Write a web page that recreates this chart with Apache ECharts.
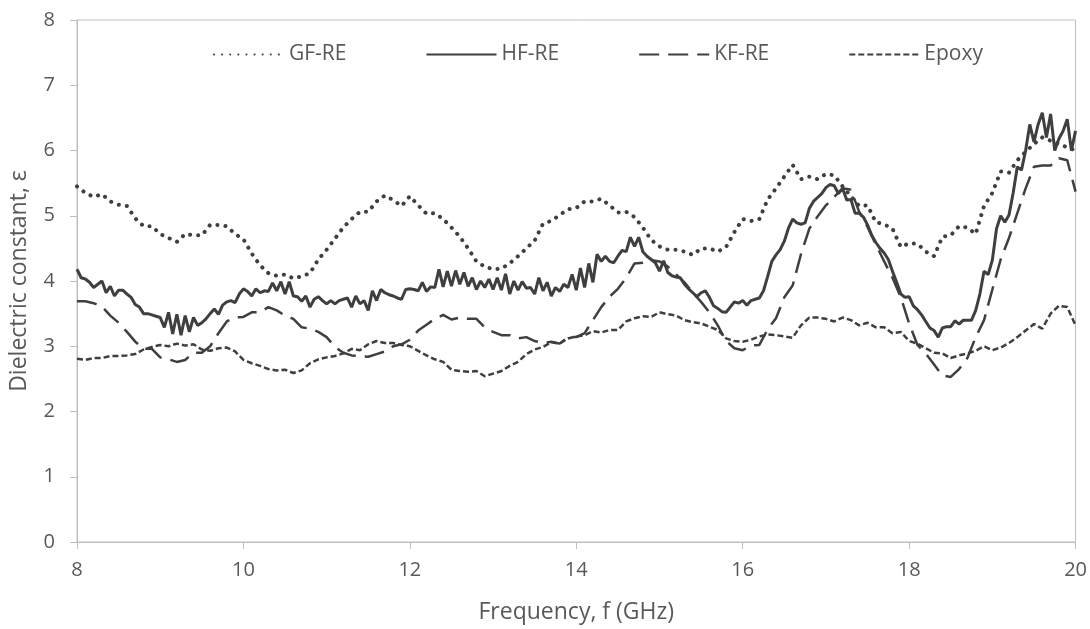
<!DOCTYPE html>
<html>
<head>
<meta charset="utf-8">
<script src="https://cdn.jsdelivr.net/npm/echarts@6/dist/echarts.min.js"></script>
<style>
  html, body { margin: 0; padding: 0; background: #fff; }
  #chart { width: 1090px; height: 629px; }
</style>
</head>
<body>
<div id="chart"></div>
<script>
// Frequency grids (GHz): 0.1 GHz steps for the smoother curves, 0.05 GHz for HF-RE
const freqCoarse = Array.from({ length: 121 }, (_, i) => +(8 + i * 0.1).toFixed(2));
const freqFine = Array.from({ length: 241 }, (_, i) => +(8 + i * 0.05).toFixed(2));

// Dielectric constant (one row = 1 GHz)
const gfRe = [
  5.45, 5.35, 5.29, 5.33, 5.22, 5.17, 5.15, 4.96, 4.84, 4.84,
  4.72, 4.66, 4.60, 4.72, 4.70, 4.70, 4.86, 4.86, 4.84, 4.72,
  4.64, 4.42, 4.24, 4.12, 4.08, 4.10, 4.04, 4.07, 4.12, 4.33,
  4.48, 4.65, 4.82, 4.95, 5.06, 5.06, 5.22, 5.31, 5.24, 5.15,
  5.30, 5.16, 5.03, 5.04, 4.95, 4.82, 4.68, 4.50, 4.30, 4.22,
  4.18, 4.19, 4.27, 4.38, 4.50, 4.62, 4.88, 4.92, 5.01, 5.10,
  5.12, 5.22, 5.22, 5.26, 5.16, 5.05, 5.06, 4.98, 4.82, 4.63,
  4.53, 4.48, 4.48, 4.45, 4.40, 4.50, 4.50, 4.45, 4.52, 4.75,
  4.95, 4.92, 4.95, 5.25, 5.42, 5.60, 5.78, 5.56, 5.60, 5.56,
  5.64, 5.62, 5.45, 5.30, 5.15, 5.16, 4.90, 4.87, 4.80, 4.52,
  4.58, 4.57, 4.45, 4.38, 4.68, 4.70, 4.84, 4.82, 4.72, 5.15,
  5.35, 5.68, 5.66, 5.85, 5.98, 6.10, 6.20, 6.15, 6.10, 6.05,
  6.00
];

const hfRe = [
  4.18, 4.05, 4.03, 3.98, 3.90, 3.95, 4.00, 3.82, 3.92, 3.77, 3.86, 3.86, 3.80, 3.75, 3.64, 3.60, 3.50, 3.50, 3.48, 3.46,
  3.44, 3.29, 3.52, 3.19, 3.49, 3.17, 3.47, 3.22, 3.44, 3.32, 3.36, 3.42, 3.50, 3.57, 3.49, 3.63, 3.68, 3.70, 3.67, 3.80,
  3.88, 3.84, 3.77, 3.88, 3.82, 3.85, 3.84, 3.97, 3.85, 3.99, 3.80, 3.99, 3.77, 3.76, 3.69, 3.77, 3.60, 3.72, 3.76, 3.70,
  3.65, 3.70, 3.65, 3.70, 3.72, 3.74, 3.60, 3.77, 3.65, 3.70, 3.55, 3.85, 3.70, 3.87, 3.82, 3.79, 3.77, 3.74, 3.72, 3.87,
  3.88, 3.87, 3.85, 3.98, 3.84, 3.91, 3.90, 4.18, 3.91, 4.15, 3.92, 4.16, 3.95, 4.13, 3.92, 4.05, 3.87, 4.00, 3.90, 4.03,
  3.87, 4.05, 3.86, 4.11, 3.80, 4.00, 3.86, 3.99, 3.89, 3.90, 3.80, 4.05, 3.85, 3.98, 3.77, 3.90, 3.84, 3.95, 3.90, 4.10,
  3.86, 4.20, 3.90, 4.27, 3.98, 4.41, 4.30, 4.38, 4.30, 4.28, 4.38, 4.47, 4.45, 4.67, 4.53, 4.67, 4.45, 4.38, 4.33, 4.28,
  4.15, 4.31, 4.13, 4.08, 4.06, 4.05, 3.95, 3.88, 3.82, 3.76, 3.82, 3.85, 3.75, 3.62, 3.58, 3.53, 3.52, 3.60, 3.68, 3.66,
  3.70, 3.63, 3.70, 3.72, 3.74, 3.85, 4.07, 4.30, 4.40, 4.48, 4.61, 4.81, 4.95, 4.89, 4.87, 4.89, 5.11, 5.22, 5.28, 5.34,
  5.43, 5.48, 5.46, 5.34, 5.42, 5.24, 5.25, 5.04, 5.04, 4.98, 4.86, 4.70, 4.59, 4.50, 4.43, 4.33, 4.15, 3.98, 3.80, 3.75,
  3.76, 3.62, 3.56, 3.48, 3.38, 3.28, 3.24, 3.14, 3.28, 3.30, 3.30, 3.39, 3.34, 3.40, 3.40, 3.40, 3.55, 3.80, 4.15, 4.10,
  4.32, 4.80, 5.00, 4.90, 5.01, 5.35, 5.75, 5.70, 6.00, 6.40, 6.13, 6.40, 6.58, 6.20, 6.56, 6.00, 6.18, 6.30, 6.48, 6.00,
  6.30
];

const kfRe = [
  3.69, 3.69, 3.66, 3.61, 3.47, 3.36, 3.22, 3.07, 2.96, 2.96,
  2.83, 2.80, 2.76, 2.79, 2.90, 2.90, 3.00, 3.20, 3.38, 3.44,
  3.45, 3.52, 3.52, 3.60, 3.55, 3.47, 3.42, 3.29, 3.27, 3.22,
  3.14, 2.99, 2.90, 2.86, 2.85, 2.84, 2.88, 2.92, 3.00, 3.03,
  3.10, 3.24, 3.33, 3.42, 3.48, 3.41, 3.44, 3.42, 3.42, 3.29,
  3.22, 3.17, 3.17, 3.12, 3.14, 3.08, 3.05, 3.07, 3.04, 3.14,
  3.14, 3.20, 3.40, 3.60, 3.76, 3.88, 4.05, 4.27, 4.28, 4.32,
  4.30, 4.22, 4.10, 3.98, 3.82, 3.68, 3.52, 3.32, 3.08, 2.97,
  2.94, 3.01, 3.02, 3.26, 3.43, 3.75, 3.93, 4.41, 4.80, 4.99,
  5.16, 5.29, 5.42, 5.40, 5.06, 4.83, 4.56, 4.30, 4.05, 3.75,
  3.35, 3.02, 2.89, 2.72, 2.55, 2.53, 2.65, 2.82, 3.14, 3.40,
  3.87, 4.33, 4.66, 5.04, 5.42, 5.75, 5.77, 5.77, 5.88, 5.85,
  5.37
];

const epoxy = [
  2.81, 2.79, 2.82, 2.82, 2.85, 2.85, 2.86, 2.88, 2.95, 2.99,
  3.02, 3.00, 3.04, 3.01, 3.03, 2.95, 2.93, 2.97, 2.98, 2.92,
  2.79, 2.74, 2.70, 2.65, 2.63, 2.64, 2.59, 2.63, 2.74, 2.80,
  2.83, 2.85, 2.89, 2.96, 2.94, 3.03, 3.08, 3.05, 3.05, 3.02,
  3.00, 2.93, 2.86, 2.80, 2.76, 2.64, 2.62, 2.61, 2.62, 2.54,
  2.58, 2.62, 2.70, 2.76, 2.88, 2.95, 2.99, 3.06, 3.04, 3.12,
  3.15, 3.17, 3.23, 3.21, 3.25, 3.25, 3.38, 3.43, 3.46, 3.45,
  3.52, 3.49, 3.47, 3.40, 3.37, 3.35, 3.30, 3.25, 3.12, 3.08,
  3.07, 3.10, 3.15, 3.18, 3.17, 3.15, 3.13, 3.32, 3.44, 3.44,
  3.42, 3.38, 3.44, 3.40, 3.32, 3.36, 3.29, 3.29, 3.20, 3.22,
  3.08, 3.04, 2.97, 2.90, 2.89, 2.82, 2.86, 2.89, 2.93, 3.00,
  2.94, 2.98, 3.05, 3.14, 3.24, 3.34, 3.27, 3.50, 3.62, 3.60,
  3.32
];

const xTicks = { min: 8, max: 20, interval: 2 };
const yTicks = { min: 0, max: 8, interval: 1 };

const pair = (xs, ys) => xs.map((x, i) => [x, ys[i]]);

const lineColor = '#3f3f3f';
const gridColor = '#bfbfbf';
const textColor = '#595959';
const fontFamily = '"Open Sans", "Noto Sans", sans-serif';

const chart = echarts.init(document.getElementById('chart'), null, { renderer: 'canvas' });

const option = {
  animation: false,
  backgroundColor: '#fff',
  grid: {
    left: 77,
    right: 14,
    top: 20,
    bottom: 82,
    show: true,
    borderColor: gridColor,
    borderWidth: 1
  },
  legend: {
    left: 208,
    top: 39,
    itemWidth: 70,
    itemHeight: 14,
    itemGap: 79,
    itemStyle: { opacity: 0 },
    textStyle: { color: textColor, fontSize: 21, fontFamily: fontFamily },
    data: ['GF-RE', 'HF-RE', 'KF-RE', 'Epoxy']
  },
  xAxis: {
    type: 'value',
    min: xTicks.min,
    max: xTicks.max,
    interval: xTicks.interval,
    name: 'Frequency, f (GHz)',
    nameLocation: 'middle',
    nameGap: 59,
    nameTextStyle: { color: textColor, fontSize: 23, fontFamily: fontFamily },
    axisLine: { lineStyle: { color: gridColor, width: 1 } },
    axisTick: { show: true, length: 7, lineStyle: { color: gridColor } },
    axisLabel: { color: textColor, fontSize: 20, fontFamily: fontFamily, margin: 18 },
    splitLine: { show: false }
  },
  yAxis: {
    type: 'value',
    min: yTicks.min,
    max: yTicks.max,
    interval: yTicks.interval,
    name: 'Dielectric constant, ε',
    nameLocation: 'middle',
    nameGap: 46,
    nameTextStyle: { color: textColor, fontSize: 23, fontFamily: fontFamily },
    axisLine: { show: true, lineStyle: { color: gridColor, width: 1 } },
    axisTick: { show: true, length: 7, lineStyle: { color: gridColor } },
    axisLabel: { color: textColor, fontSize: 20, fontFamily: fontFamily, margin: 22 },
    splitLine: { show: false }
  },
  series: [
    {
      name: 'GF-RE',
      type: 'line',
      symbol: 'none',
      data: pair(freqCoarse, gfRe),
      lineStyle: { color: lineColor, width: 4, type: [0.1, 8], cap: 'round' },
      itemStyle: { color: lineColor }
    },
    {
      name: 'HF-RE',
      type: 'line',
      symbol: 'none',
      data: pair(freqFine, hfRe),
      lineStyle: { color: lineColor, width: 3 },
      itemStyle: { color: lineColor }
    },
    {
      name: 'KF-RE',
      type: 'line',
      symbol: 'none',
      data: pair(freqCoarse, kfRe),
      lineStyle: { color: lineColor, width: 2.5, type: [20, 9] },
      itemStyle: { color: lineColor }
    },
    {
      name: 'Epoxy',
      type: 'line',
      symbol: 'none',
      data: pair(freqCoarse, epoxy),
      lineStyle: { color: lineColor, width: 2.5, type: [6, 3] },
      itemStyle: { color: lineColor }
    }
  ]
};

chart.setOption(option);
window.addEventListener('resize', () => chart.resize());
</script>
</body>
</html>
